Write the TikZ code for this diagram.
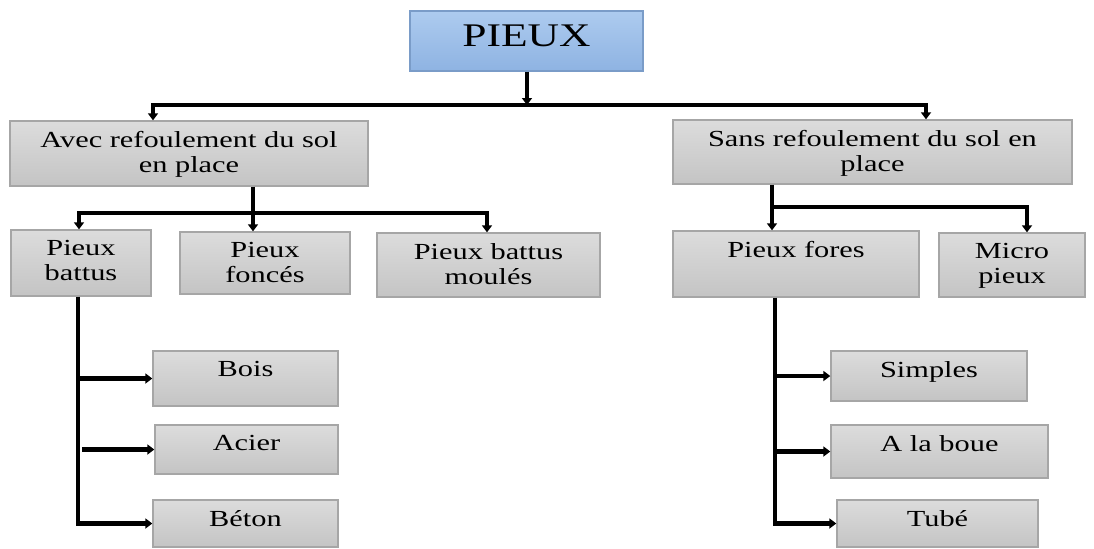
\documentclass[tikz,border=0pt]{standalone}
\usepackage{fontspec}
\setmainfont{Liberation Serif}[FakeStretch=1.32]
\usetikzlibrary{arrows.meta}

\definecolor{boxtop}{HTML}{DCDCDC}
\definecolor{boxbot}{HTML}{C4C4C4}
\definecolor{boxline}{HTML}{A6A6A6}
\definecolor{bluetop}{HTML}{ADCBEF}
\definecolor{bluebot}{HTML}{8EB3E2}
\definecolor{blueline}{HTML}{7A9CC8}

\tikzset{
  pbox/.style={draw=boxline, line width=0.7pt, top color=boxtop, bottom color=boxbot, inner sep=0pt},
  topbox/.style={draw=blueline, line width=0.7pt, top color=bluetop, bottom color=bluebot, inner sep=0pt},
  txt/.style={anchor=north, align=center, inner sep=0pt, yshift=-5.5pt, font=\fontsize{11.5}{12.5}\selectfont},
  link/.style={line width=2.2pt},
  arr/.style={link, -{Triangle[length=3.5pt,width=5pt]}},
}

\begin{document}
\begin{tikzpicture}[x=0.5pt, y=-0.5pt]
    % page of the original figure, in px
    \useasboundingbox (0,0) rectangle (1094,548);
    \fill[white] (0,0) rectangle (1094,548);

    % root
    \node[topbox, minimum width=116.5pt, minimum height=30pt,
      label={[txt, yshift=-1.5pt, font=\fontsize{16.5}{18}\selectfont]north:PIEUX}] (pieux) at (526.5,41) {};

    % first level
    \node[pbox, minimum width=179pt, minimum height=32.5pt,
      label={[txt]north:Avec refoulement du sol\\en place}] (avec) at (189,153.5) {};
    \node[pbox, minimum width=199.5pt, minimum height=32pt,
      label={[txt]north:Sans refoulement du sol en\\place}] (sans) at (872.5,152) {};

    % second level, left
    \node[pbox, minimum width=70pt, minimum height=33pt,
      label={[txt]north:Pieux\\battus}] (battus) at (81,263) {};
    \node[pbox, minimum width=85pt, minimum height=31pt,
      label={[txt]north:Pieux\\foncés}] (fonces) at (265,263) {};
    \node[pbox, minimum width=111.5pt, minimum height=32pt,
      label={[txt]north:Pieux battus\\moulés}] (moules) at (488.5,265) {};

    % second level, right
    \node[pbox, minimum width=123pt, minimum height=33pt,
      label={[txt]north:Pieux fores}] (fores) at (796,264) {};
    \node[pbox, minimum width=73pt, minimum height=32pt,
      label={[txt]north:Micro\\pieux}] (micro) at (1012,265) {};

    % materials
    \node[pbox, minimum width=92.5pt, minimum height=27.5pt,
      label={[txt]north:Bois}] (bois) at (245.5,378.5) {};
    \node[pbox, minimum width=91.5pt, minimum height=24.5pt,
      label={[txt]north:Acier}] (acier) at (246.5,449.5) {};
    \node[pbox, minimum width=92.5pt, minimum height=23.5pt,
      label={[txt]north:Béton}] (beton) at (245.5,523.5) {};

    % drilling methods
    \node[pbox, minimum width=98pt, minimum height=25pt,
      label={[txt]north:Simples}] (simples) at (929,376) {};
    \node[pbox, minimum width=108.5pt, minimum height=26.5pt,
      label={[txt]north:A la boue}] (boue) at (939.5,451.5) {};
    \node[pbox, minimum width=100.5pt, minimum height=23.5pt,
      label={[txt]north:Tubé}] (tube) at (937.5,523.5) {};

    % junction points on the bars
    \coordinate (j0) at (527,105);
    \coordinate (a1) at (153,105);
    \coordinate (a2) at (926,105);
    \coordinate (j1) at (253,213);
    \coordinate (b1) at (79,213);
    \coordinate (b3) at (487,213);
    \coordinate (j2) at (772,207);
    \coordinate (m1) at (1027,207);
    \coordinate (v1) at (78,0);
    \coordinate (v2) at (775,0);

    % root to first level
    \draw[arr] (pieux.south -| j0) -- (j0);
    \draw[arr] (j0) -| (a1 |- avec.north);
    \draw[arr] (j0) -| (a2 |- sans.north);

    % avec -> three kinds
    \draw[link] (avec.south -| j1) -- (j1);
    \draw[arr] (j1) -| (b1 |- battus.north);
    \draw[arr] (j1) -- (j1 |- fonces.north);
    \draw[arr] (j1) -| (b3 |- moules.north);

    % sans -> two kinds
    \draw[arr] (sans.south -| j2) -- (j2 |- fores.north);
    \draw[arr] (j2) -| (m1 |- micro.north);

    % battus -> materials
    \draw[arr] (battus.south -| v1) |- (beton.west);
    \draw[arr] (bois.west -| v1) -- (bois.west);
    \draw[arr] ([xshift=2pt]acier.west -| v1) -- (acier.west);

    % fores -> methods
    \draw[arr] (fores.south -| v2) |- (tube.west);
    \draw[arr] (simples.west -| v2) -- (simples.west);
    \draw[arr] (boue.west -| v2) -- (boue.west);
\end{tikzpicture}
\end{document}
